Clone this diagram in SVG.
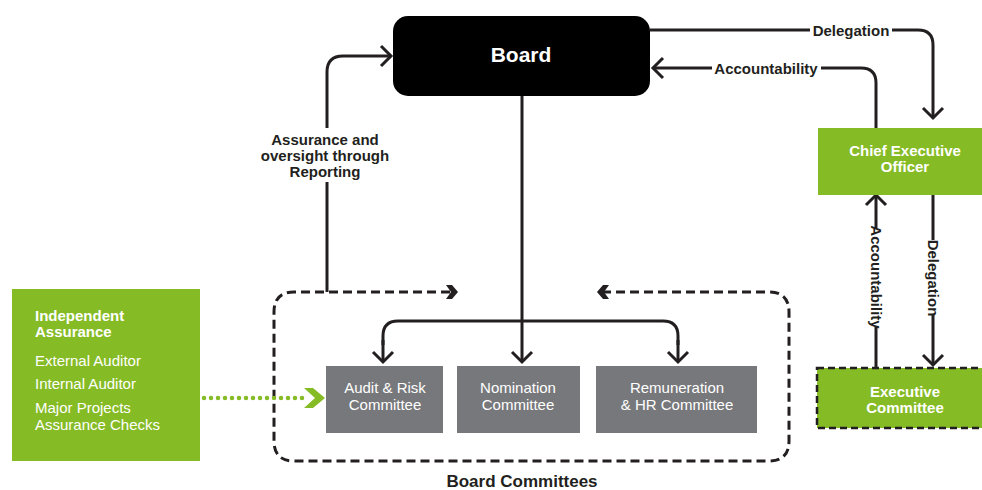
<svg xmlns="http://www.w3.org/2000/svg" width="982" height="490" viewBox="0 0 982 490">
<style>
text{font-family:"Liberation Sans",Arial,sans-serif;}
.lbl{font-size:15px;font-weight:bold;fill:#231f20;}
.wb{font-size:15px;font-weight:bold;fill:#fff;}
.wr{font-size:15px;fill:#fff;}
.ln{fill:none;stroke:#231f20;stroke-width:3;}
.gray{fill:#77787b;}
.green{fill:#85bb25;}
</style>
<defs>
<marker id="ah" markerUnits="userSpaceOnUse" markerWidth="24" markerHeight="24" viewBox="-12 -12 24 24" refX="-1" refY="0" orient="auto">
<path d="M-10,-10 L0,0 L-10,10" fill="none" stroke="#231f20" stroke-width="3"/>
</marker>
</defs>
<rect width="982" height="490" fill="#fff"/>

<g id="connectors">
<path class="ln" d="M650,30 H810 M892,30 H918 Q933,30 933,45 V117" marker-end="url(#ah)"/>
<text class="lbl" x="851" y="36" text-anchor="middle">Delegation</text>
<path class="ln" d="M876,128 V83 Q876,68 861,68 H821 M712,68 H654" marker-end="url(#ah)"/>
<text class="lbl" x="766" y="74" text-anchor="middle">Accountability</text>
<path class="ln" d="M327,292 V182 M327,128 V72 Q327,56 343,56 H390" marker-end="url(#ah)"/>
<text class="lbl" text-anchor="middle"><tspan x="325" y="145">Assurance and</tspan><tspan x="325" y="161">oversight through</tspan><tspan x="325" y="177">Reporting</tspan></text>
<path class="ln" d="M522,96 V361" marker-end="url(#ah)"/>
<path class="ln" d="M383,345 V336 Q383,321 398,321 H663 Q678,321 678,336 V345"/>
<path class="ln" d="M383,340 V361" marker-end="url(#ah)"/>
<path class="ln" d="M678,340 V361" marker-end="url(#ah)"/>
<path class="ln" d="M876,368 V327 M876,228 V196" marker-end="url(#ah)"/>
<text class="lbl" transform="translate(876,277) rotate(90)" x="0" y="5" text-anchor="middle">Accountability</text>
<path class="ln" d="M933,195 V240 M933,315 V364" marker-end="url(#ah)"/>
<text class="lbl" transform="translate(933,278) rotate(90)" x="0" y="5" text-anchor="middle">Delegation</text>
<path d="M450,292 H294 Q274,292 274,312 V441 Q274,461 294,461 H769 Q789,461 789,441 V312 Q789,292 769,292 H604" fill="none" stroke="#231f20" stroke-width="3" stroke-dasharray="9 5"/>
<polygon points="446,285 452,285 458,292 452,299 446,299 451,292" fill="#231f20"/>
<polygon points="609,285 603,285 597,292 603,299 609,299 604,292" fill="#231f20"/>
<path d="M204,398 H304" fill="none" stroke="#85bb25" stroke-width="4.5" stroke-linecap="round" stroke-dasharray="0 7"/>
<polygon points="304,388 313,388 325,398 313,408 304,408 315,398" fill="#85bb25"/>
</g>

<g id="board">
<rect x="393" y="16" width="257" height="80" rx="15" fill="#000"/>
<text x="521" y="62" text-anchor="middle" font-size="21" font-weight="bold" fill="#fff">Board</text>
</g>

<g id="ceo">
<rect class="green" x="818" y="128" width="170" height="67"/>
<text class="wb" text-anchor="middle"><tspan x="905" y="156">Chief Executive</tspan><tspan x="905" y="172">Officer</tspan></text>
</g>

<g id="exec">
<rect class="green" x="817" y="368" width="172" height="60" stroke="#231f20" stroke-width="2.5" stroke-dasharray="7 4"/>
<text class="wb" text-anchor="middle"><tspan x="905" y="397">Executive</tspan><tspan x="905" y="413">Committee</tspan></text>
</g>

<g id="audit">
<rect class="gray" x="326" y="366" width="117" height="67"/>
<text class="wr" text-anchor="middle"><tspan x="385" y="393">Audit &amp; Risk</tspan><tspan x="385" y="410">Committee</tspan></text>
</g>

<g id="nomination">
<rect class="gray" x="457" y="366" width="123" height="67"/>
<text class="wr" text-anchor="middle"><tspan x="518" y="393">Nomination</tspan><tspan x="518" y="410">Committee</tspan></text>
</g>

<g id="remuneration">
<rect class="gray" x="596" y="366" width="161" height="67"/>
<text class="wr" text-anchor="middle"><tspan x="677" y="393">Remuneration</tspan><tspan x="677" y="410">&amp; HR Committee</tspan></text>
</g>

<g id="committees-label">
<text x="522" y="487" text-anchor="middle" font-size="17" font-weight="bold" fill="#231f20">Board Committees</text>
</g>

<g id="independent">
<rect class="green" x="12" y="289" width="188" height="172"/>
<text class="wb"><tspan x="35" y="321">Independent</tspan><tspan x="35" y="337">Assurance</tspan></text>
<text class="wr"><tspan x="35" y="366">External Auditor</tspan><tspan x="35" y="389">Internal Auditor</tspan><tspan x="35" y="413">Major Projects</tspan><tspan x="35" y="430">Assurance Checks</tspan></text>
</g>
</svg>
